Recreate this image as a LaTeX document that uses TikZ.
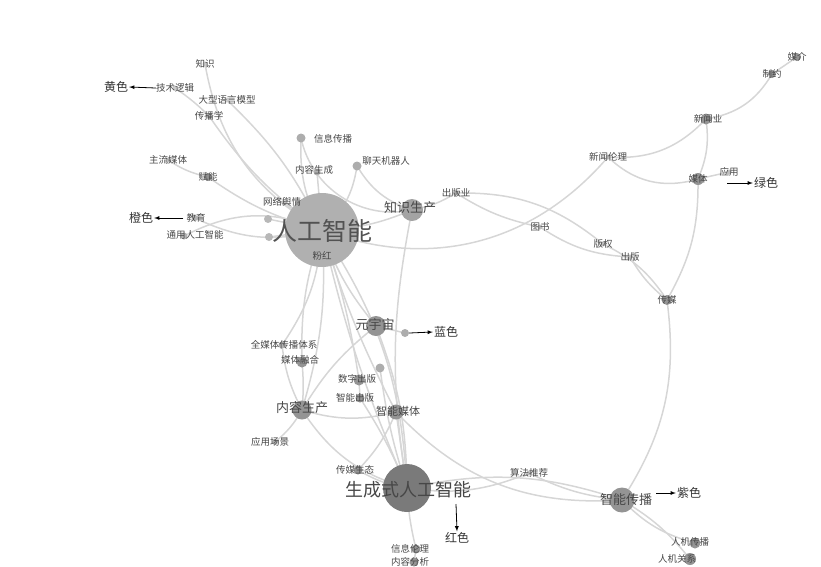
\documentclass[tikz,border=0pt]{standalone}
\usepackage{fontspec}
\setmainfont{Noto Sans CJK SC}
\usetikzlibrary{backgrounds}
\tikzset{font=\fontsize{9.5}{10}\selectfont}

\begin{document}
\begin{tikzpicture}[x=1pt,y=-1pt,
  blob/.style={circle,fill=black!42,inner sep=0pt,minimum size=#1},
  blob/.default=7pt,
  lbl/.style={text=black!72,inner sep=0pt},
  big/.style={lbl,font=\fontsize{#1}{#1}\selectfont},
  link/.style={draw=black!16,line width=1.5pt},
  colourtag/.style={text=black!80,font=\fontsize{12}{12}\selectfont,inner sep=1pt}]
    \useasboundingbox (0,0) rectangle (821,566);
    \clip (0,0) rectangle (821,566);

    % main hubs
    \node[blob=74pt,fill=black!31] (ai) at (322,230) {};
    \node[big=25,text=black!68] (ai-l) at (322,231) {人工智能};
    \node[lbl] (ai-c) at (322,256) {粉红};
    \node[blob=48pt,fill=black!52] (gen) at (407,488) {};
    \node[big=18] (gen-l) at (408,490) {生成式人工智能};
    \node[blob=20pt] (yyz) at (376,326) {};
    \node[big=13] (yyz-l) at (375,324) {元宇宙};
    \node[blob=22pt,fill=black!36] (zssc) at (412,210) {};
    \node[big=13] (zssc-l) at (410,208) {知识生产};
    \node[blob=19pt] (nrsc) at (302,410) {};
    \node[big=13] (nrsc-l) at (302,408) {内容生产};
    \node[blob=15pt] (znmt) at (396,412) {};
    \node[big=11] (znmt-l) at (398,411) {智能媒体};
    \node[blob=25pt] (zncb) at (622,500) {};
    \node[big=13] (zncb-l) at (626,500) {智能传播};

    % left cluster
    \node[blob=5pt,fill=black!20] (zs) at (205,64) {};
    \node[lbl] (zs-l) at (205,64) {知识};
    \node[blob=5pt,fill=black!20] (jsl) at (175,88) {};
    \node[lbl] (jsl-l) at (175,88) {技术逻辑};
    \node[blob=5pt,fill=black!20] (dxyy) at (227,100) {};
    \node[lbl] (dxyy-l) at (227,100) {大型语言模型};
    \node[blob=6pt,fill=black!30] (cbx) at (209,116) {};
    \node[lbl] (cbx-l) at (209,116) {传播学};
    \node[blob=5pt,fill=black!25] (zlmt) at (168,160) {};
    \node[lbl] (zlmt-l) at (168,160) {主流媒体};
    \node[blob=8pt] (fn) at (208,177) {};
    \node[lbl] (fn-l) at (208,177) {赋能};
    \node[blob=6pt,fill=black!30] (jy) at (195,218) {};
    \node[lbl] (jy-l) at (196,218) {教育};
    \node[blob=7pt,fill=black!30] (tyai) at (184,236) {};
    \node[lbl] (tyai-l) at (195,235) {通用人工智能};
    \node[blob=5pt,fill=black!25] (wlyq) at (284,203) {};
    \node[lbl] (wlyq-l) at (282,202) {网络舆情};
    \node[blob=8pt,fill=black!28] (d1) at (268,219) {};
    \node[blob=8pt,fill=black!28] (d2) at (269,237) {};
    \node[blob=9pt,fill=black!32] (xxcb) at (301,138) {};
    \node[lbl] (xxcb-l) at (333,139) {信息传播};
    \node[blob=9pt,fill=black!32] (ltjqr) at (357,166) {};
    \node[lbl] (ltjqr-l) at (386,161) {聊天机器人};
    \node[blob=7pt,fill=black!30] (nrsg) at (317,172) {};
    \node[lbl] (nrsg-l) at (314,170) {内容生成};

    % right cluster
    \node[blob=5pt,fill=black!25] (cby) at (456,193) {};
    \node[lbl] (cby-l) at (456,193) {出版业};
    \node[blob=5pt,fill=black!25] (ts) at (540,227) {};
    \node[lbl] (ts-l) at (540,227) {图书};
    \node[blob=5pt,fill=black!25] (bq) at (603,244) {};
    \node[lbl] (bq-l) at (603,244) {版权};
    \node[blob=5pt,fill=black!25] (cb) at (630,257) {};
    \node[lbl] (cb-l) at (630,257) {出版};
    \node[blob=10pt] (cm) at (667,300) {};
    \node[lbl] (cm-l) at (667,300) {传媒};
    \node[blob=5pt,fill=black!25] (xwll) at (608,157) {};
    \node[lbl] (xwll-l) at (608,157) {新闻伦理};
    \node[blob=11pt] (xwy) at (706,119) {};
    \node[lbl] (xwy-l) at (708,119) {新闻业};
    \node[blob=12pt] (mt) at (698,179) {};
    \node[lbl] (mt-l) at (698,179) {媒体};
    \node[blob=5pt,fill=black!25] (yy) at (729,172) {};
    \node[lbl] (yy-l) at (729,172) {应用};
    \node[blob=8pt] (zy) at (772,74) {};
    \node[lbl] (zy-l) at (772,74) {制约};
    \node[blob=8pt] (mj) at (797,57) {};
    \node[lbl] (mj-l) at (797,57) {媒介};

    % lower cluster
    \node[blob=8pt,fill=black!32] (yyzd) at (405,333) {};
    \node[blob=7pt,fill=black!30] (qmt) at (282,345) {};
    \node[lbl] (qmt-l) at (284,345) {全媒体传播体系};
    \node[blob=11pt] (mtrh) at (302,362) {};
    \node[lbl] (mtrh-l) at (300,360) {媒体融合};
    \node[blob=9pt,fill=black!32] (d3) at (380,368) {};
    \node[blob=11pt] (szcb) at (359,380) {};
    \node[lbl] (szcb-l) at (357,379) {数字出版};
    \node[blob=9pt] (zncbs) at (360,398) {};
    \node[lbl] (zncbs-l) at (355,398) {智能出版};
    \node[blob=6pt,fill=black!30] (yycj) at (275,442) {};
    \node[lbl] (yycj-l) at (270,442) {应用场景};
    \node[blob=9pt] (cmst) at (358,470) {};
    \node[lbl] (cmst-l) at (355,470) {传媒生态};
    \node[blob=5pt,fill=black!25] (sftj) at (529,473) {};
    \node[lbl] (sftj-l) at (529,473) {算法推荐};
    \node[blob=9pt] (xxll) at (416,549) {};
    \node[lbl] (xxll-l) at (410,549) {信息伦理};
    \node[blob=9pt] (nrfx) at (414,562) {};
    \node[lbl] (nrfx-l) at (410,562) {内容分析};
    \node[blob=11pt] (rjcb) at (695,543) {};
    \node[lbl] (rjcb-l) at (690,542) {人机传播};
    \node[blob=12pt] (rjgx) at (690,559) {};
    \node[lbl] (rjgx-l) at (677,559) {人机关系};

    % colour tags
    \node[colourtag] (huang) at (116,87) {黄色};
    \node[colourtag] (cheng) at (141,218) {橙色};
    \node[colourtag] (lan) at (446,332) {蓝色};
    \node[colourtag] (lv) at (766,183) {绿色};
    \node[colourtag] (zi) at (689,493) {紫色};
    \node[colourtag] (hong) at (457,538) {红色};
    \coordinate (lv-s) at (727,183);
    \coordinate (zi-s) at (656,493);
    \coordinate (hong-s) at (456,504);
    \draw[-latex,thick] (jsl-l.west) -- (huang.east);
    \draw[-latex,thick] ([xshift=-3pt]jy-l.west) -- (cheng.east);
    \draw[-latex,thick] (yyzd.east) -- (lan.west);
    \draw[-latex,thick] (lv-s) -- (lv.west);
    \draw[-latex,thick] (zi-s) -- (zi.west);
    \draw[-latex,thick] (hong-s) -- (hong.north);

    \begin{scope}[on background layer]
      \foreach \a/\b/\k in {zs/ai/-25, jsl/cbx/5, cbx/ai/-10, dxyy/ai/10, zlmt/fn/-10,
        fn/ai/-10, jy/ai/-20, tyai/ai/25, wlyq/ai/0, d1/ai/0, d2/ai/0,
        xxcb/ai/-15, xxcb/zssc/-45, ltjqr/ai/20, ltjqr/zssc/-20, nrsg/ai/0,
        ai/zssc/-10, zssc/cby/-10, ai/xwll/-35, xwll/xwy/-25, xwll/mt/-30,
        xwy/mt/15, xwy/zy/-25, zy/mj/0, mt/yy/0, mt/cm/15, cm/zncb/20,
        cby/ts/-10, ts/cb/-15, cby/bq/20, bq/cm/15, cb/cm/-10,
        ai/yyz/-10, ai/nrsc/10, ai/gen/-5, ai/gen/15, ai/znmt/-5, ai/szcb/5,
        ai/mtrh/-10, ai/qmt/15, yyz/yyzd/0, yyz/nrsc/-10, yyz/gen/10,
        qmt/nrsc/-10, mtrh/nrsc/5, nrsc/yycj/10, nrsc/gen/-20, nrsc/znmt/-15,
        szcb/zncbs/0, zncbs/gen/5, d3/gen/-5, znmt/gen/0, znmt/zncb/-25,
        cmst/gen/-10, cmst/znmt/-10, gen/sftj/-15, sftj/zncb/-10, gen/zncb/15,
        zssc/gen/-10, xxll/gen/5, xxll/nrfx/0, zncb/rjcb/-15, zncb/rjgx/10}
        \draw[link] (\a.center) to[bend left=\k] (\b.center);
    \end{scope}
\end{tikzpicture}
\end{document}
